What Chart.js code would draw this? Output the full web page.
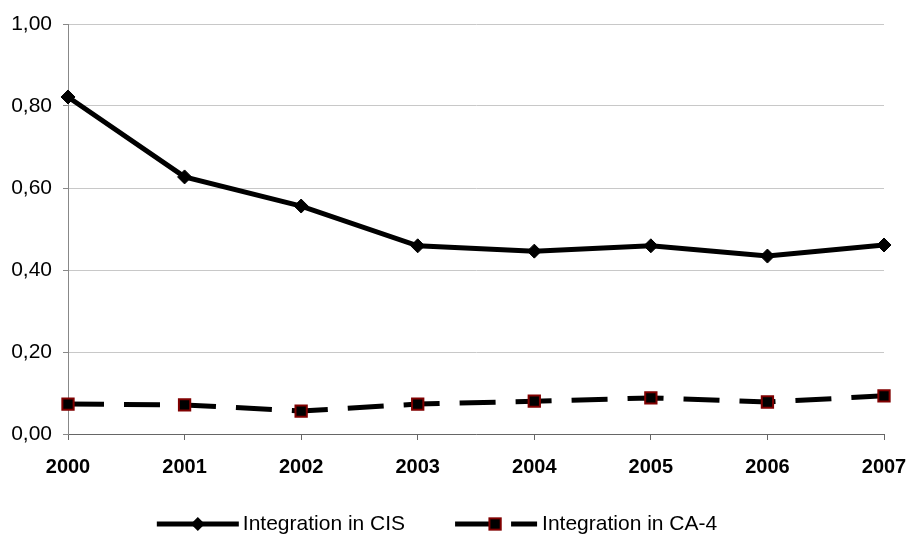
<!DOCTYPE html>
<html>
<head>
<meta charset="utf-8">
<script src="https://cdn.jsdelivr.net/npm/chart.js@4.4.0/dist/chart.umd.min.js"></script>
<style>
  body { margin: 0; background: #fff; }
  #wrap { width: 914px; height: 540px; }
</style>
</head>
<body>
<div id="wrap"><canvas id="chart" width="914" height="540"></canvas></div>
<script>
var years = ['2000', '2001', '2002', '2003', '2004', '2005', '2006', '2007']
var cis = [0.822, 0.627, 0.556, 0.459, 0.446, 0.459, 0.434, 0.461]
var ca4 = [0.073, 0.071, 0.056, 0.073, 0.080, 0.088, 0.078, 0.093]
var seriesNames = ['Integration in CIS', 'Integration in CA-4']

var FONT = '"Liberation Sans", Arial, sans-serif'

// draws the legend row under the plot, line sample with its marker
const bottomLegend = {
  id: 'bottomLegend',
  afterDraw(chart) {
    var ctx = chart.ctx
    var y = 524
    var sampleW = 82
    ctx.save()
    ctx.font = '21px ' + FONT
    var w0 = ctx.measureText(seriesNames[0]).width
    var w1 = ctx.measureText(seriesNames[1]).width
    var total = sampleW + 4 + w0 + 50 + sampleW + 5 + w1
    var x = 437 - total / 2
    chart.data.datasets.forEach((ds, i) => {
      ctx.strokeStyle = ds.borderColor
      ctx.lineWidth = ds.borderWidth
      ctx.setLineDash(ds.borderDash || [])
      ctx.beginPath()
      ctx.moveTo(x, y)
      ctx.lineTo(x + sampleW, y)
      ctx.stroke()
      ctx.setLineDash([])
      var mx = x + (i == 0 ? 41 : 40)
      ctx.fillStyle = ds.pointBackgroundColor
      if (ds.pointStyle == 'rectRot') {
        var r = ds.pointRadius
        ctx.beginPath()
        ctx.moveTo(mx, y - r)
        ctx.lineTo(mx + r, y)
        ctx.lineTo(mx, y + r)
        ctx.lineTo(mx - r, y)
        ctx.closePath()
        ctx.fill()
      } else {
        var s = ds.pointRadius * Math.SQRT2
        ctx.fillRect(mx - s / 2, y - s / 2, s, s)
        ctx.strokeStyle = ds.pointBorderColor
        ctx.lineWidth = ds.pointBorderWidth
        ctx.strokeRect(mx - s / 2, y - s / 2, s, s)
      }
      ctx.fillStyle = '#000'
      ctx.textBaseline = 'middle'
      ctx.textAlign = 'left'
      var tx = x + sampleW + (i == 0 ? 4 : 5)
      ctx.fillText(seriesNames[i], tx, y)
      x = tx + (i == 0 ? w0 : w1) + 50
    })
    ctx.restore()
  }
}

var ctx = document.getElementById('chart').getContext('2d')
var chart = new Chart(ctx, {
  type: 'line',
  data: {
    labels: years,
    datasets: [{
      label: seriesNames[0],
      data: cis,
      borderColor: '#000',
      borderWidth: 5,
      pointStyle: 'rectRot',
      pointRadius: 7,
      pointBackgroundColor: '#000',
      pointBorderColor: '#000',
      pointBorderWidth: 1,
      tension: 0
    }, {
      label: seriesNames[1],
      data: ca4,
      borderColor: '#000',
      borderWidth: 5,
      borderDash: [36, 20],
      pointStyle: 'rect',
      pointRadius: 8,
      pointBackgroundColor: '#000',
      pointBorderColor: '#800000',
      pointBorderWidth: 2,
      tension: 0
    }]
  },
  options: {
    responsive: false,
    animation: false,
    layout: { padding: { top: 24, right: 30, bottom: 56, left: 0 } },
    plugins: {
      legend: { display: false },
      tooltip: { enabled: false }
    },
    scales: {
      x: {
        grid: { drawOnChartArea: false, drawTicks: true, tickLength: 6, color: '#666' },
        border: { color: '#666', width: 1 },
        ticks: { color: '#000', padding: 15, font: { family: FONT, size: 20, weight: 'bold' }, maxRotation: 0 },
        afterFit: (s) => {
          s.height = 50
          s.paddingLeft = 0
          s.paddingRight = 0
        }
      },
      y: {
        min: 0,
        max: 1,
        grid: { color: '#c8c8c8', tickLength: 5, tickColor: '#888' },
        border: { color: '#888', width: 1 },
        ticks: {
          stepSize: 0.2,
          padding: 11,
          color: '#000',
          font: { family: FONT, size: 21 },
          callback: (v) => v.toFixed(2).replace('.', ',')
        },
        afterFit: (s) => { s.width = 68 }
      }
    }
  },
  plugins: [bottomLegend]
})
</script>
</body>
</html>
